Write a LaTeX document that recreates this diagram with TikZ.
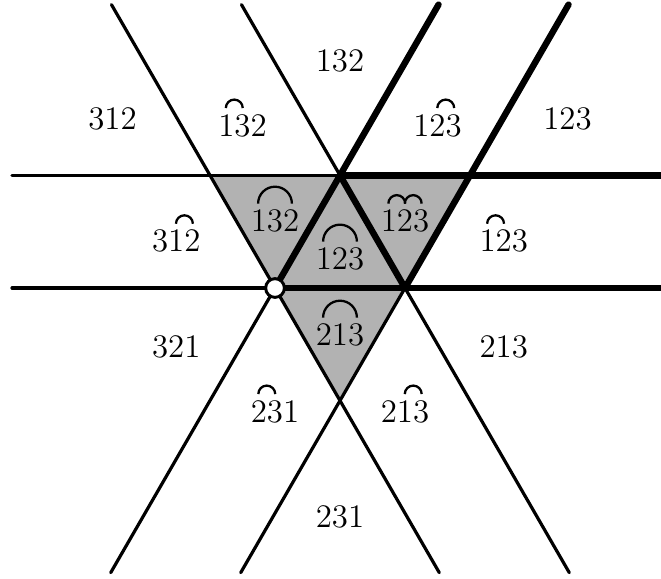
\documentclass[tikz,border=0pt]{standalone}
\usepackage{tikz}
\usetikzlibrary{calc}
\tikzset{
    thinline/.style={line width=1.4pt, line cap=round},
    thickline/.style={line width=2.8pt, line cap=round},
    arcline/.style={line width=1pt},
    cell/.style={fill=black!30},
    perm/.style={font=\Large, inner sep=0pt},
    vertex/.style={circle, draw, line width=1.3pt, fill=white,
        minimum size=8.2pt, inner sep=0pt},
}
% arc over the digits #2..#3 of label #1
\newcommand{\permarc}[3]{%
    \pgfmathsetmacro{\arcrad}{(#3-#2)*3.7}%
    \pgfmathsetmacro{\arcxs}{((#2+#3)/2-2)*7.2-\arcrad}%
    \draw[arcline] ([xshift=\arcxs pt, yshift=2.5pt]#1.north)
        arc[start angle=180, end angle=0, radius=\arcrad pt];}

\begin{document}
\begin{tikzpicture}[x=2cm, y=2cm]
    \useasboundingbox (-2.1154,-2.2308) rectangle (2.9692,2.2154);
    % corners of the small triangles
    \coordinate (O) at (0,0);
    \coordinate (R) at (1,0);
    \coordinate (T) at (0.5,0.866);
    \coordinate (TL) at (-0.5,0.866);
    \coordinate (TR) at (1.5,0.866);
    \coordinate (B) at (0.5,-0.866);
    % ends of the lines
    \coordinate (a1) at (-1.258,2.18);  \coordinate (a2) at (1.264,-2.19);
    \coordinate (b1) at (-0.258,2.18);  \coordinate (b2) at (2.264,-2.19);
    \coordinate (c1) at (-1.264,-2.19); \coordinate (c2) at (1.258,2.18);
    \coordinate (d1) at (-0.264,-2.19); \coordinate (d2) at (2.258,2.18);
    \coordinate (h1l) at (-2.023,0.866); \coordinate (h1r) at (3.0,0.866);
    \coordinate (h2l) at (-2.023,0);     \coordinate (h2r) at (3.0,0);

    % shaded cells
    \fill[cell] (TL) -- (T) -- (O) -- cycle;
    \fill[cell] (O) -- (T) -- (R) -- cycle;
    \fill[cell] (T) -- (TR) -- (R) -- cycle;
    \fill[cell] (O) -- (R) -- (B) -- cycle;

    % lines
    \foreach \s/\e in {a1/a2, b1/b2, c1/c2, d1/d2, h1l/h1r, h2l/h2r}
        \draw[thinline] (\s) -- (\e);
    \foreach \s/\e in {O/c2, R/d2, T/R, T/h1r, O/h2r}
        \draw[thickline] (\s) -- (\e);

    % plain labels
    \foreach \nm/\pos/\txt in {p132/{(0.5,1.75)}/132, p312/{(-1.25,1.3)}/312,
            p123/{(2.25,1.3)}/123, p321/{(-0.76,-0.45)}/321,
            p213/{(1.76,-0.45)}/213, p231/{(0.5,-1.76)}/231}
        \node[perm] (\nm) at \pos {\txt};

    % labels with arcs
    \node[perm] (a132) at (-0.25,1.25) {132};
    \node[perm] (a123) at (1.25,1.25) {123};
    \node[perm] (a312) at (-0.76,0.36) {312};
    \node[perm] (b123) at (1.76,0.36) {123};
    \node[perm] (a231) at (0,-0.95) {231};
    \node[perm] (a213) at (1,-0.95) {213};
    \node[perm] (g132) at (0,0.515) {132};
    \node[perm] (g123) at (0.5,0.223) {123};
    \node[perm] (h123) at (1,0.515) {123};
    \node[perm] (g213) at (0.5,-0.362) {213};

    \permarc{a132}{1}{2}
    \permarc{a123}{2}{3}
    \permarc{a312}{2}{3}
    \permarc{b123}{1}{2}
    \permarc{a231}{1}{2}
    \permarc{a213}{2}{3}
    \permarc{g132}{1}{3}
    \permarc{g123}{1}{3}
    \permarc{h123}{1}{2}
    \permarc{h123}{2}{3}
    \permarc{g213}{1}{3}

    \node[vertex] (v) at (O) {};
\end{tikzpicture}
\end{document}
